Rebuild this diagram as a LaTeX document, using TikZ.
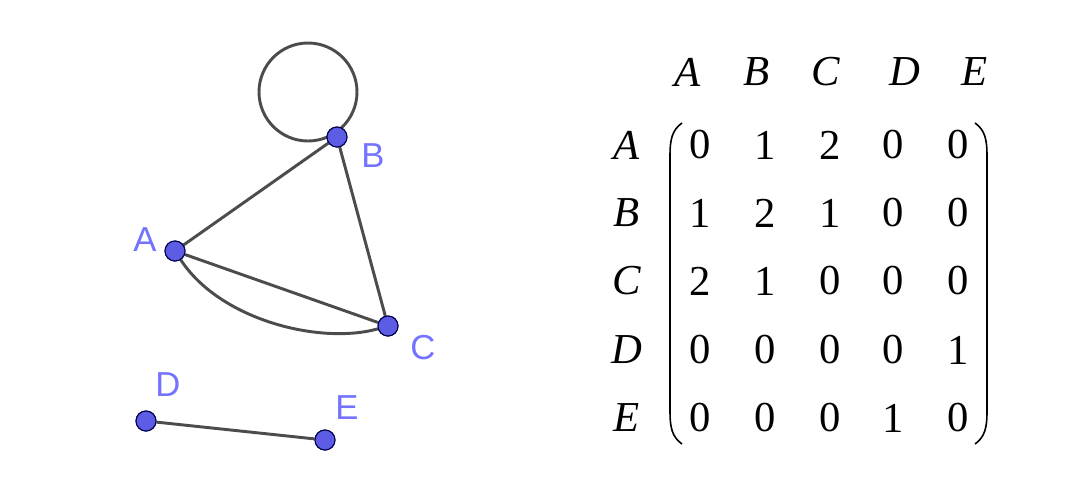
\documentclass[tikz,border=0pt]{standalone}
\usepackage{fontspec}
\setmainfont{Liberation Serif}
\newfontfamily\lblfont{Liberation Sans}
\begin{document}
\begin{tikzpicture}[x=0.75pt,y=-0.75pt,
  vtx/.style={circle,fill=blue!60!white!90!black,draw=black!70!blue,line width=0.8pt,inner sep=0pt,minimum size=15pt},
  edge/.style={draw=black!70,line width=2.2pt},
  vl/.style={text=blue!55!white,font=\lblfont\fontsize{26}{26}\selectfont},
  mt/.style={font=\fontsize{32}{32}\selectfont},
  mh/.style={font=\itshape\fontsize{32}{32}\selectfont},
  par/.style={draw=black,line width=1.2pt}]
\useasboundingbox (0,0) rectangle (1068,487);
\fill[white] (0,0) rectangle (1068,487);
\coordinate (lc) at (308,92);
\draw[edge] (lc) circle (49);
\node[vtx] (A) at (175,251) {};
\node[vtx] (B) at (337,137) {};
\node[vtx] (C) at (388,326) {};
\node[vtx] (D) at (146,421) {};
\node[vtx] (E) at (325,440) {};
\draw[edge] (A) -- (B) (B) -- (C) (A) -- (C) (D) -- (E);
\draw[edge] (A) .. controls (220,320) and (320,345) .. (C);
\node[vtx] at (A) {};\node[vtx] at (B) {};\node[vtx] at (C) {};
\node[vtx] at (D) {};\node[vtx] at (E) {};
\node[vl] (lA) at (145,240) {A};
\node[vl] (lB) at (373,156) {B};
\node[vl] (lC) at (423,348) {C};
\node[vl] (lD) at (168,385) {D};
\node[vl] (lE) at (347,408) {E};
% headers
\foreach \t/\x in {A/688,B/757,C/826,D/905,E/975} \node[mh] at (\x,72) {\t};
\foreach \t/\y in {A/145,B/213,C/281,D/350,E/418} \node[mh] at (627,\y) {\t};
\foreach \r/\y in {{0,1,2,0,0}/145,{1,2,1,0,0}/213,{2,1,0,0,0}/281,{0,0,0,0,1}/350,{0,0,0,1,0}/418}{
  \foreach \v [count=\i] in \r {
    \pgfmathsetmacro\xx{{700,765,830,893,958}[\i-1]}
    \node[mt] at (\xx,\y) {\v};
  }
}
\draw[par] (682,123) .. controls (672,130) and (670,140) .. (670,155) -- (670,412) .. controls (670,427) and (672,437) .. (682,444);
\draw[par] (975,123) .. controls (985,130) and (987,140) .. (987,155) -- (987,412) .. controls (987,427) and (985,437) .. (975,444);
\end{tikzpicture}
\end{document}
